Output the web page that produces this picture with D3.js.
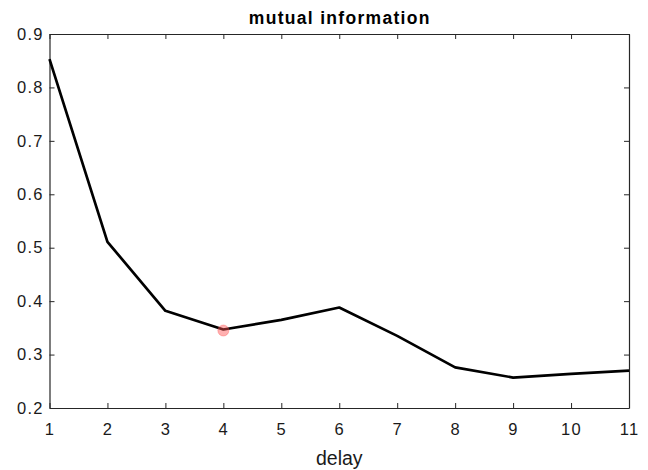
<!DOCTYPE html>
<html><head><meta charset="utf-8">
<script src="https://cdn.jsdelivr.net/npm/d3@7"></script>
<style>body{margin:0;background:#fff}svg{display:block}text{font-family:"Liberation Sans",Arial,sans-serif}</style>
</head><body><svg id="c" width="648" height="470"></svg>
<script>
const delays = [1,2,3,4,5,6,7,8,9,10,11];
const mutualInfo = [0.853,0.511,0.382,0.347,0.365,0.388,0.335,0.276,0.257,0.264,0.270];
const markerDelay = [4];
const markerValue = [0.345];
const xTicks = [1,2,3,4,5,6,7,8,9,10,11];
const yTicks = [0.2,0.3,0.4,0.5,0.6,0.7,0.8,0.9];

const svg = d3.select("#c");
const L=49.5, R=629, T=34, B=408;
const x = d3.scaleLinear().domain([1,11]).range([L,R]);
const y = d3.scaleLinear().domain([0.2,0.9]).range([B,T]);
const axisColor="#262626";

const gx = svg.append("g").attr("transform",`translate(0,${B})`)
  .call(d3.axisBottom(x).tickValues(xTicks).tickFormat(d3.format("d")).tickSizeInner(-5).tickSizeOuter(0).tickPadding(15));
const gxt = svg.append("g").attr("transform",`translate(0,${T})`)
  .call(d3.axisTop(x).tickValues(xTicks).tickFormat("").tickSizeInner(-5).tickSizeOuter(0));
const gy = svg.append("g").attr("transform",`translate(${L},0)`)
  .call(d3.axisLeft(y).tickValues(yTicks).tickFormat(d3.format(".1f")).tickSizeInner(-5).tickSizeOuter(0).tickPadding(7));
const gyr = svg.append("g").attr("transform",`translate(${R},0)`)
  .call(d3.axisRight(y).tickValues(yTicks).tickFormat("").tickSizeInner(-5).tickSizeOuter(0));
[gx,gxt,gy,gyr].forEach(g=>{
  g.selectAll("path.domain").attr("stroke",axisColor).attr("stroke-width",1.2);
  g.selectAll(".tick line").attr("stroke",axisColor).attr("stroke-width",1);
  g.selectAll("text").attr("fill","#1a1a1a").attr("font-size",16.5).attr("letter-spacing","1.3px");
});
gx.selectAll(".tick text").attr("dy","0.71em");
gy.selectAll(".tick text").attr("dx","1.3px");

const line = d3.line().x((d,i)=>x(delays[i])).y(d=>y(d));
svg.append("path").datum(mutualInfo).attr("d",line)
  .attr("fill","none").attr("stroke","#000").attr("stroke-width",2.7).attr("stroke-linejoin","round");

svg.selectAll("circle.m").data(markerDelay).enter().append("circle")
  .attr("cx",d=>x(d)).attr("cy",(d,i)=>y(markerValue[i])).attr("r",5.5)
  .attr("fill","rgba(255,80,80,0.45)").attr("stroke","rgba(255,80,80,0.35)").attr("stroke-width",1);

svg.append("text").attr("x",(L+R)/2+0.5).attr("y",24).attr("text-anchor","middle")
  .attr("font-size",17.5).attr("font-weight","bold").attr("letter-spacing","1.3px").attr("fill","#000").text("mutual information");
svg.append("text").attr("x",(L+R)/2).attr("y",465).attr("text-anchor","middle")
  .attr("font-size",19.5).attr("fill","#1a1a1a").text("delay");
</script></body></html>
